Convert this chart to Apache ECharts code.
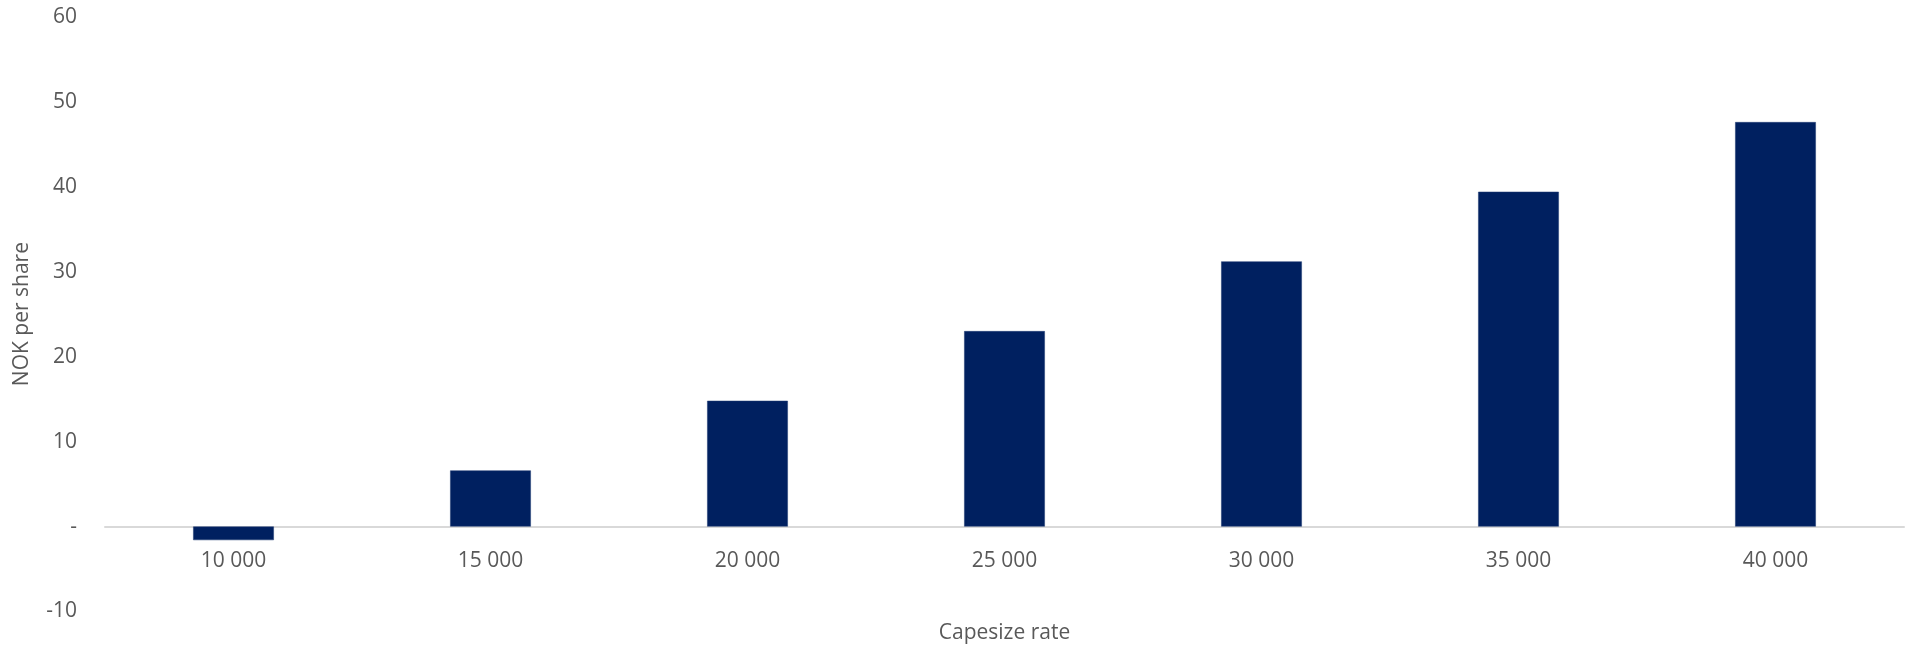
<!DOCTYPE html>
<html>
<head>
<meta charset="utf-8">
<script src="https://cdn.jsdelivr.net/npm/echarts@6/dist/echarts.min.js"></script>
<style>
html,body{margin:0;padding:0;background:#fff;}
#chart{width:1910px;height:649px;}
</style>
</head>
<body>
<div id="chart"></div>
<script>
const categories = ['10 000', '15 000', '20 000', '25 000', '30 000', '35 000', '40 000'];
const values = [-1.6, 6.6, 14.8, 23.0, 31.2, 39.4, 47.6];
const yMin = -10, yMax = 60, yStep = 10;
const xAxisTitle = 'Capesize rate';
const yAxisTitle = 'NOK per share';

const textColor = '#595959';
const fontFamily = '"Open Sans", sans-serif';
const chart = echarts.init(document.getElementById('chart'), null, {renderer: 'canvas'});
chart.setOption({
  animation: false,
  backgroundColor: '#ffffff',
  grid: {left: 105, right: 6, top: 16.7, bottom: 37.5, containLabel: false, outerBoundsMode: 'none'},
  xAxis: {
    type: 'category',
    data: categories,
    name: xAxisTitle,
    nameLocation: 'middle',
    nameGap: 21.5,
    nameTextStyle: {color: textColor, fontSize: 21, fontFamily: fontFamily, verticalAlign: 'middle'},
    axisLine: {onZero: true, lineStyle: {color: '#d9d9d9', width: 2}},
    axisTick: {show: false},
    axisLabel: {color: textColor, fontSize: 21, fontFamily: fontFamily, margin: -61},
    splitLine: {show: false}
  },
  yAxis: {
    type: 'value',
    min: yMin, max: yMax, interval: yStep,
    name: yAxisTitle,
    nameLocation: 'middle',
    nameGap: 83,
    nameTextStyle: {color: textColor, fontSize: 21, fontFamily: fontFamily, verticalAlign: 'middle'},
    axisLine: {show: false},
    axisTick: {show: false},
    splitLine: {show: false},
    axisLabel: {
      color: textColor, fontSize: 21, fontFamily: fontFamily, margin: 28,
      formatter: v => v === 0 ? '-' : String(v)
    }
  },
  series: [{
    type: 'bar',
    data: values,
    barWidth: '31.4%',
    itemStyle: {color: '#002060', borderColor: '#1f3a73', borderWidth: 0.5}
  }]
});
</script>
</body>
</html>
